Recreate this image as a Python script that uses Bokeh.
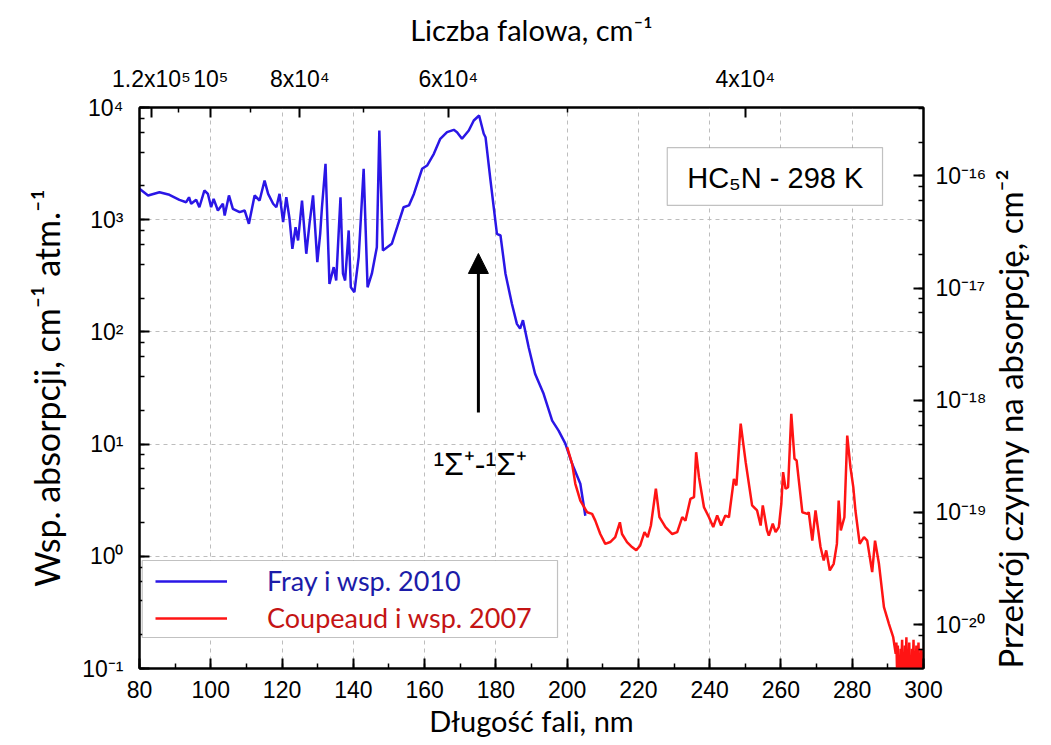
import math
from bokeh.plotting import figure
from bokeh.models import (Range1d, LogAxis, LinearAxis, FixedTicker, LogTicker, SingleIntervalTicker,
                          CustomJSTickFormatter, Legend, LegendItem, BoxAnnotation, Label, Arrow,
                          NormalHead, LogScale)
from bokeh.embed import file_html
from bokeh.resources import INLINE

# ---------------- data ----------------
fray_wl = [80.0, 82.4, 85.6, 88.4, 91.2, 93.1, 93.9, 94.5, 95.9, 96.8, 98.2, 99.2, 100.1, 100.8, 102.0,
           103.4, 103.9, 105.1, 106.2, 108.1, 109.5, 110.7, 112.3, 113.7, 115.1, 116.1, 117.5, 118.4,
           119.3, 120.3, 121.2, 122.1, 122.9, 123.8, 124.5, 125.6, 126.8, 127.7, 128.7, 129.9, 130.7,
           131.2, 132.2, 133.3, 134.5, 135.2, 136.4, 137.1, 137.7, 138.7, 139.3, 140.3, 141.5, 142.9,
           144.0, 145.2, 146.6, 147.3, 148.3, 150.8, 152.3, 154.1, 155.6, 157.0, 159.3, 160.7, 162.6,
           164.4, 166.3, 168.2, 169.1, 170.5, 172.4, 173.8, 175.3, 176.6, 177.1, 178.5, 180.3, 181.3,
           182.7, 184.5, 185.9, 186.8, 187.6, 189.2, 191.0, 193.4, 195.8, 197.6, 199.5, 201.4, 203.7,
           205.1]
fray_val = [1885, 1644, 1758, 1667, 1503, 1432, 1585, 1386, 1503, 1291, 1820, 1697, 1291, 1535, 1208,
            1387, 1090, 1644, 1250, 1167, 1208, 918, 1644, 1483, 2233, 1698, 1387, 1291,
            1698, 950, 1585, 1019, 550, 857, 653, 1483, 497, 918, 1650, 418, 748,
            1291, 3150, 268, 378, 287, 1585, 330, 287, 802, 250, 226, 463, 2843,
            250, 330, 569, 6237, 531, 610, 857, 1291, 1340, 1698, 2843, 3041, 3864,
            5260, 6026, 6324, 6026, 5260, 6237, 7656, 8490, 5834, 5433, 2234, 748, 723,
            330, 178, 118, 107, 127, 73, 42.4, 28.1, 16.2, 13.2, 10.1, 6.67, 4.43,
            2.3]

coup_wl = [200.0, 201.4, 202.3, 203.7, 205.6, 207.0, 207.9, 209.3, 210.7, 212.1, 213.5, 214.8, 215.4,
           216.8, 218.2, 219.4, 220.5, 221.7, 222.6, 223.5, 224.9, 225.9, 227.6, 229.5, 230.9, 232.3,
           233.2, 234.6, 235.6, 236.2, 237.0, 238.4, 239.8, 241.0, 242.1, 243.2, 244.4, 245.4, 246.8,
           247.5, 248.7, 250.1, 251.9, 253.3, 254.3, 254.9, 256.1, 256.6, 257.7, 258.5, 259.4, 260.1,
           260.6, 261.3, 262.0, 262.9, 263.8, 264.4, 266.0, 267.4, 267.8, 268.8, 269.7, 271.1, 272.0,
           272.7, 273.7, 274.8, 275.7, 276.2, 276.8, 277.8, 278.6, 279.5, 280.3, 280.9, 282.1, 283.3,
           284.2, 285.6, 286.4, 287.5, 288.9, 290.3, 291.5, 292.2, 292.4, 292.6, 292.8, 293.0, 293.2,
           293.4, 293.6, 293.8, 294.0, 294.2, 294.4, 294.6, 294.8, 295.0, 295.2, 295.4, 295.6, 295.8,
           296.0, 296.2, 296.4, 296.6, 296.8, 297.0, 297.2, 297.4, 297.6, 297.8, 298.0, 298.2, 298.4,
           298.6, 298.8, 299.0, 299.2, 299.4, 299.6, 299.8, 300.0]
coup_val = [9.38, 6.67, 4.43, 3.14, 2.47, 2.39, 2.08, 1.58, 1.29, 1.34, 1.48, 2.01, 1.58,
            1.34, 1.21, 1.13, 1.25, 1.64, 1.48, 1.88, 4.0, 2.23, 1.82, 1.58, 1.64, 2.23,
            2.08, 3.25, 3.37, 8.47, 5.07, 2.74, 2.23, 1.82, 2.31, 1.88, 2.31, 2.23, 4.9,
            4.28, 15.2, 6.9, 2.84, 2.56, 1.88, 2.84, 1.70, 1.53, 1.95, 1.64, 1.82, 2.94,
            5.62, 4.0, 4.13, 18.6, 7.4, 7.14, 2.47, 2.39, 2.47, 1.38, 2.56, 1.21, 0.918,
            1.13, 0.748, 0.857, 1.29, 3.14, 1.70, 2.23, 11.9, 6.22, 4.13, 2.56, 1.29, 1.48,
            1.38, 0.723, 1.38, 0.857, 0.352, 0.25, 0.19, 0.135, 0.17, 0.09, 0.16, 0.08, 0.13,
            0.07, 0.15, 0.11, 0.18, 0.08, 0.14, 0.06, 0.16, 0.10, 0.19, 0.07, 0.13, 0.09,
            0.17, 0.08, 0.12, 0.06, 0.15, 0.10, 0.18, 0.07, 0.14, 0.09, 0.16, 0.08, 0.12,
            0.17, 0.07, 0.13, 0.10, 0.15, 0.06, 0.14, 0.09]

top_major_k = [1.2e5, 1e5, 8e4, 6e4, 4e4]
top_major_lab = ["1.2x10\u2075", "10\u2075", "8x10\u2074", "6x10\u2074", "4x10\u2074"]
top_minor_k = [1.1e5, 9e4, 7e4, 5e4]
n_loschmidt = 2.46e19  # molecules cm^-3 atm^-1 at 298 K

# ---------------- figure ----------------
TICK_FONT = "Liberation Sans"
TITLE_FONT = "Lato"
FRAME_W, FRAME_H = 784, 561

p = figure(x_range=Range1d(80, 300), y_range=Range1d(0.1, 1e4), y_axis_type="log",
           frame_width=FRAME_W, frame_height=FRAME_H, output_backend="svg", toolbar_location=None,
           min_border_left=139, min_border_right=125, min_border_top=107, min_border_bottom=74,
           background_fill_color="white", border_fill_color="white")
p.outline_line_color = "black"
p.outline_line_width = 2

sup_js = """
const sup = {"0":"\u2070","1":"\u00b9","2":"\u00b2","3":"\u00b3","4":"\u2074","5":"\u2075",
             "6":"\u2076","7":"\u2077","8":"\u2078","9":"\u2079","-":"\u207b"};
const e = Math.round(Math.log10(tick));
return "10" + String(e).split("").map(c => sup[c]).join("");
"""

def style_axis(ax, title_size):
    ax.axis_line_width = 2
    ax.axis_line_color = "black"
    ax.major_tick_in = 10
    ax.major_tick_out = 0
    ax.minor_tick_in = 5
    ax.minor_tick_out = 0
    ax.major_tick_line_width = 2
    ax.minor_tick_line_width = 1.5
    ax.major_label_text_font = TICK_FONT
    ax.major_label_text_font_size = "23px"
    ax.major_label_text_color = "black"
    ax.axis_label_text_font = TITLE_FONT
    ax.axis_label_text_font_size = title_size
    ax.axis_label_text_font_style = "normal"
    ax.axis_label_text_color = "black"

# bottom axis
xa = p.xaxis[0]
xa.ticker = SingleIntervalTicker(interval=20, num_minor_ticks=2)
xa.axis_label = "D\u0142ugo\u015b\u0107 fali, nm"
style_axis(xa, "29px")
xa.major_label_standoff = 12
xa.axis_label_standoff = 2

# left axis
ya = p.yaxis[0]
ya.ticker = LogTicker(desired_num_ticks=6)
ya.formatter = CustomJSTickFormatter(code=sup_js)
ya.axis_label = "Wsp. absorpcji, cm\u207b\u00b9 atm.\u207b\u00b9"
style_axis(ya, "34px")
ya.major_label_standoff = 16
ya.axis_label_standoff = 12

# top axis (wavenumber)
top_pos = [1e7 / k for k in top_major_k]
top_minor_pos = [1e7 / k for k in top_minor_k]
ta = LinearAxis(ticker=FixedTicker(ticks=top_pos, minor_ticks=top_minor_pos),
                formatter=CustomJSTickFormatter(args=dict(pos=top_pos, labs=top_major_lab), code="""
const i = pos.findIndex(v => Math.abs(v - tick) < 1e-6);
return i >= 0 ? labs[i] : "";
"""))
ta.axis_label = "Liczba falowa, cm\u207b\u00b9"
style_axis(ta, "29px")
ta.major_label_standoff = 16
ta.axis_label_standoff = 16
p.add_layout(ta, "above")

# right axis (cross section)
p.extra_y_ranges = {"sigma": Range1d(0.1 / n_loschmidt, 1e4 / n_loschmidt)}
p.extra_y_scales = {"sigma": LogScale()}
ra = LogAxis(y_range_name="sigma", ticker=LogTicker(desired_num_ticks=6),
             formatter=CustomJSTickFormatter(code=sup_js))
ra.axis_label = "Przekr\u00f3j czynny na  absorpcj\u0119, cm\u207b\u00b2"
style_axis(ra, "33px")
ra.major_label_standoff = 12
ra.axis_label_standoff = 20
ra.axis_label_orientation = math.pi / 2
ra.axis_label_align = "start"
p.add_layout(ra, "right")

# grids
for g in (p.xgrid[0], p.ygrid[0]):
    g.grid_line_color = "#bdbdbd"
    g.grid_line_dash = "4 4"
    g.grid_line_width = 1
p.ygrid[0].minor_grid_line_color = None

# data lines
BLUE = "#2a16e6"
RED = "#ff1414"
r_fray = p.line(fray_wl, fray_val, line_color=BLUE, line_width=2.5)
r_coup = p.line(coup_wl, coup_val, line_color=RED, line_width=2.5)

# legend frame
leg_box = BoxAnnotation(left=80.76, right=197.3, bottom=0.189, top=0.917,
                        fill_color="white", fill_alpha=1.0, line_color="#333333", line_width=1.2,
                        level="annotation")
p.add_layout(leg_box)

def make_legend(item_label, renderer, color, yoff):
    lg = Legend(items=[LegendItem(label=item_label, renderers=[renderer])], location=(16, yoff),
                padding=0, margin=0, spacing=0, glyph_width=72, glyph_height=30,
                label_height=30, label_standoff=40, border_line_color=None,
                background_fill_alpha=0.0, label_text_font=TITLE_FONT,
                label_text_font_size="27px", label_text_color=color)
    return lg

p.add_layout(make_legend("Fray i wsp. 2010", r_fray, "#1c1ca8", 71))
p.add_layout(make_legend("Coupeaud i wsp. 2007", r_coup, "#c41414", 34))

# HC5N box
hc_box = BoxAnnotation(left=228.1, right=288.5, bottom=1340, top=4397,
                       fill_color="white", fill_alpha=1.0, line_color="#333333", line_width=1.2,
                       level="annotation")
p.add_layout(hc_box)
p.add_layout(Label(x=258.4, y=2377, text="HC\u2085N - 298 K", text_align="center",
                   text_baseline="middle", text_font=TICK_FONT, text_font_size="29px",
                   text_color="black"))

# arrow and transition label
p.add_layout(Arrow(x_start=175.1, y_start=19.1, x_end=175.1, y_end=500, line_width=3,
                   line_color="black",
                   end=NormalHead(size=20, fill_color="black", line_color="black")))
p.add_layout(Label(x=175.6, y=6.7, text="\u00b9\u03a3\u207a-\u00b9\u03a3\u207a", text_align="center",
                   text_baseline="alphabetic", text_font=TICK_FONT, text_font_size="32px",
                   text_color="black"))

open("out.html", "w").write(file_html(p, INLINE))
